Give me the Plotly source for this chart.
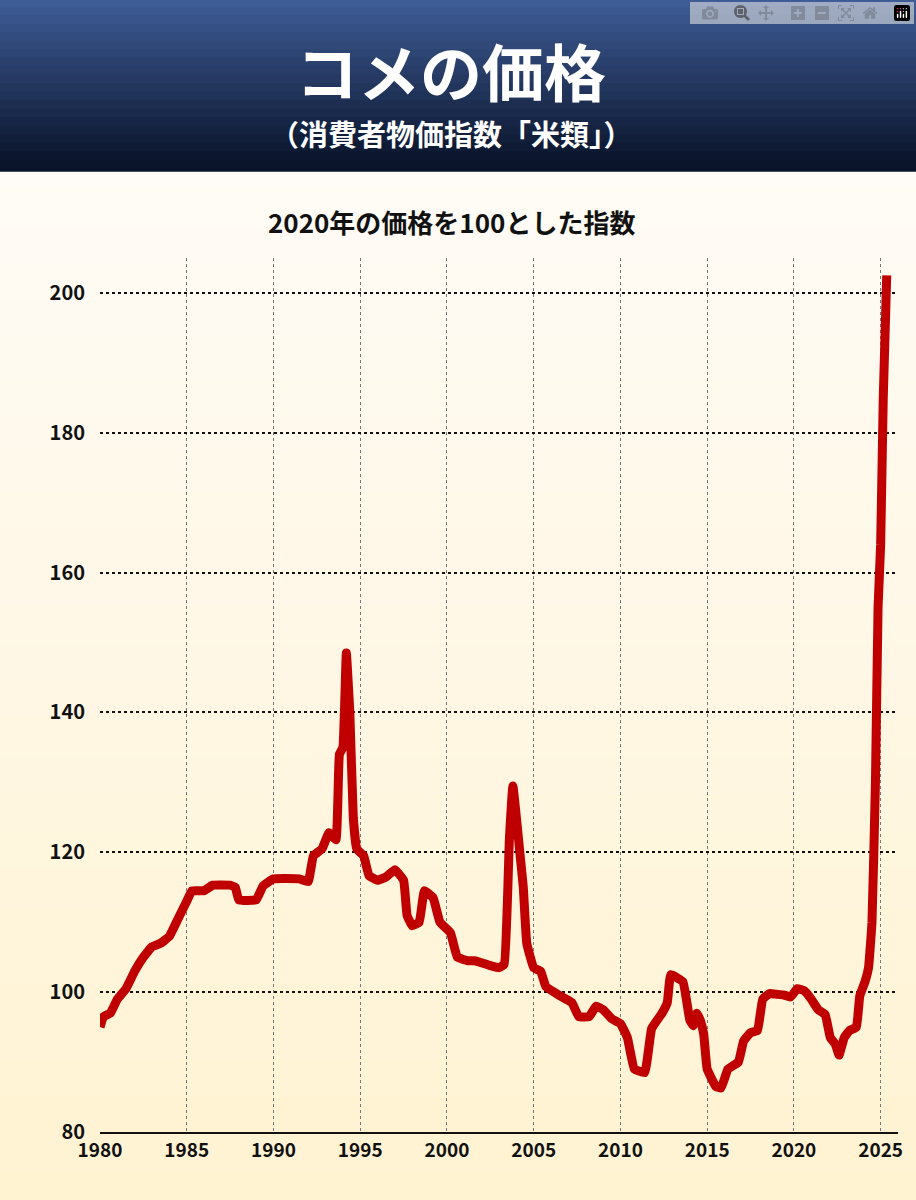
import plotly.graph_objects as go

# rice CPI (2020 = 100)
years = [1980.0, 1980.2, 1980.6, 1981.0, 1981.5, 1982.0, 1982.5, 1983.0, 1983.5, 1984.0,
         1984.5, 1985.0, 1985.3, 1986.0, 1986.5, 1987.5, 1987.8, 1988.0, 1989.0, 1989.4,
         1990.0, 1991.5, 1992.0, 1992.3, 1992.8, 1993.2, 1993.6, 1993.8, 1994.0, 1994.2,
         1994.4, 1994.6, 1994.8, 1995.2, 1995.5, 1996.0, 1996.5, 1997.0, 1997.5, 1997.7,
         1998.0, 1998.4, 1998.7, 1999.2, 1999.6, 2000.2, 2000.6, 2001.2, 2001.6, 2002.0,
         2002.5, 2003.0, 2003.3, 2003.6, 2003.8, 2004.2, 2004.4, 2004.6, 2005.0, 2005.4,
         2005.7, 2006.5, 2007.2, 2007.6, 2008.2, 2008.6, 2009.0, 2009.5, 2010.0, 2010.4,
         2010.8, 2011.4, 2011.8, 2012.4, 2012.7, 2012.9, 2013.6, 2014.0, 2014.2, 2014.4,
         2014.6, 2014.8, 2015.0, 2015.5, 2015.8, 2016.2, 2016.8, 2017.1, 2017.5, 2017.9,
         2018.2, 2018.6, 2019.0, 2019.4, 2019.8, 2020.2, 2020.6, 2021.0, 2021.4, 2021.8,
         2022.1, 2022.4, 2022.6, 2022.9, 2023.2, 2023.6, 2023.8, 2024.1, 2024.3, 2024.5,
         2024.7, 2024.85, 2025.0, 2025.15, 2025.35]
index = [95, 96.5, 97, 99, 100.5, 103, 105, 106.5, 107, 108,
         110.5, 113, 114.5, 114.5, 115.3, 115.3, 115, 113.2, 113.2, 115.2,
         116.2, 116.2, 115.8, 119.5, 120.5, 122.8, 121.8, 134, 135, 148.5,
         140, 125, 120.5, 119.5, 116.7, 116, 116.5, 117.5, 116, 111,
         109.5, 110, 114.5, 113.5, 110, 108.5, 105, 104.5, 104.5, 104.2,
         103.8, 103.5, 104, 122, 129.5, 120, 115, 107, 103.5, 103,
         100.8, 99.5, 98.5, 96.5, 96.5, 98, 97.5, 96.2, 95.5, 93.5,
         89, 88.5, 94.8, 97, 98.5, 102.5, 101.5, 96, 95.2, 97,
         96, 94, 89, 86.5, 86.3, 89, 90, 93, 94.2, 94.5,
         99, 99.8, 99.7, 99.6, 99.3, 100.5, 100.2, 99, 97.5, 96.8,
         93.5, 92.5, 91, 93.5, 94.5, 95, 99.5, 101.5, 103.5, 110,
         130, 155, 164, 185, 202.5]
x_ticks = [1980, 1985, 1990, 1995, 2000, 2005, 2010, 2015, 2020, 2025]
y_ticks = [80, 100, 120, 140, 160, 180, 200]

FONT = "Noto Sans CJK JP"

fig = go.Figure(go.Scatter(x=years, y=index, mode="lines",
                           line=dict(color="#c00000", width=9, shape="spline", smoothing=0.3),
                           hoverinfo="skip"))

TOP = 258
BOT = 68
PLOT_H = 1200 - TOP - BOT

def ypx(px):
    # pixel row from top -> paper y
    return (1200 - BOT - px) / PLOT_H

shapes = []
# cream background gradient (white -> light yellow)
n = 30
for i in range(n):
    t = i / (n - 1)
    r, g, b = 255, int(253 - 10 * t), int(250 - 40 * t)
    shapes.append(dict(type="rect", xref="paper", yref="paper", layer="below",
                       x0=-0.2, x1=1.1, y0=1.2 - (i + 1) * 1.3 / n, y1=1.2 - i * 1.3 / n + 0.01,
                       fillcolor=f"rgb({r},{g},{b})", line_width=0))
# navy header band
H = 170
m = 20
for i in range(m):
    t = i / (m - 1)
    r, g, b = int(62 - 52 * t), int(92 - 72 * t), int(150 - 108 * t)
    shapes.append(dict(type="rect", xref="paper", yref="paper", layer="below",
                       x0=-0.2, x1=1.1, y0=ypx((i + 1) * H / m) - 0.002,
                       y1=ypx(i * H / m) + 0.002,
                       fillcolor=f"rgb({r},{g},{b})", line_width=0))

def title(text, px, size, color):
    return dict(text=f"<b>{text}</b>", xref="paper", yref="paper", x=0.44, y=ypx(px),
                yanchor="middle", xanchor="center", showarrow=False,
                font=dict(size=size, color=color, family=FONT))

fig.update_layout(
    width=916, height=1200,
    margin=dict(l=100, r=18, t=TOP, b=BOT),
    paper_bgcolor="#fffbf0", plot_bgcolor="rgba(0,0,0,0)",
    showlegend=False,
    shapes=shapes,
    font=dict(family=FONT, color="#111"),
    annotations=[
        title("コメの価格", 70, 62, "white"),
        title("（消費者物価指数「米類」）", 133, 29, "white"),
        title("2020年の価格を100とした指数", 221, 26, "#111"),
    ],
    xaxis=dict(range=[1980, 2026], tickvals=x_ticks, ticktext=[str(v) for v in x_ticks],
               showgrid=True, gridcolor="#777", griddash="dot", gridwidth=1,
               zeroline=False, showline=True, linecolor="#111", linewidth=2,
               tickfont=dict(size=19, family=FONT, color="#111", weight="bold"), ticks=""),
    yaxis=dict(range=[80, 205], tickvals=y_ticks, showgrid=True, gridcolor="#111",
               griddash="dot", gridwidth=1.5, zeroline=False, showline=False,
               tickfont=dict(size=20, family=FONT, color="#111", weight="bold"),
               ticks="", ticklabelstandoff=14),
)

fig.write_html("out.html", post_script="document.body.style.margin='0';")
